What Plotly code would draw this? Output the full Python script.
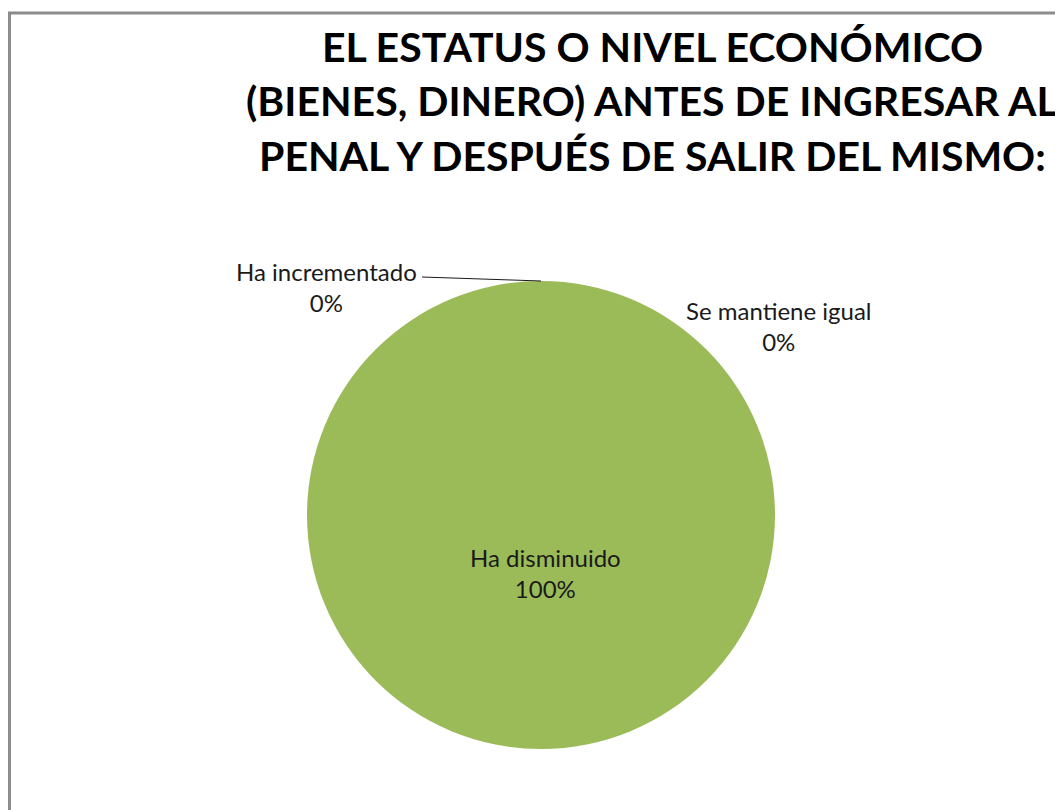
import plotly.graph_objects as go

W, H = 1063, 810

title_lines = ["EL ESTATUS O NIVEL ECONÓMICO",
               "(BIENES, DINERO) ANTES DE INGRESAR AL",
               "PENAL Y DESPUÉS DE SALIR DEL MISMO:"]
categories = ["Ha incrementado", "Se mantiene igual", "Ha disminuido"]
values = [0, 0, 100]
colors = ["#4F81BD", "#C0504D", "#9BBB59"]

total = sum(values)
pcts = [f"{round(v / total * 100)}%" for v in values]

OFF = 8  # page offset

def px(x):
    return (x - OFF) / W

def py(y):
    return 1 - (y - OFF) / H

cx, cy, r = 541, 515, 234

fig = go.Figure()
fig.add_trace(go.Pie(
    labels=categories,
    values=values,
    marker=dict(colors=colors),
    sort=False,
    direction="clockwise",
    rotation=0,
    textinfo="none",
    hoverinfo="label+percent",
    showlegend=False,
    domain=dict(x=[px(cx - r), px(cx + r)], y=[py(cy + r), py(cy - r)]),
))

label_pos = [(326, 287), (779, 326), (545, 573)]
lab_font = dict(family="Lato, Open Sans, sans-serif", size=24, color="#1a1a1a")
for (lx, ly), cat, p in zip(label_pos, categories, pcts):
    fig.add_annotation(x=px(lx), y=py(ly), xref="paper", yref="paper",
                       text=f"{cat}<br>{p}", showarrow=False, font=lab_font,
                       xanchor="center", yanchor="middle", align="center")

# leader line for "Ha incrementado"
fig.add_shape(type="line", xref="paper", yref="paper",
              x0=px(422), y0=py(277), x1=px(541), y1=py(281),
              line=dict(color="#1a1a1a", width=1))

title_y = [46, 100, 155]
for t, ty in zip(title_lines, title_y):
    fig.add_annotation(x=px(652), y=py(ty), xref="paper", yref="paper",
                       text=f"<b>{t}</b>", showarrow=False,
                       font=dict(family="Lato, Open Sans, sans-serif", size=41, color="#000000"),
                       xanchor="center", yanchor="middle")

# chart area border (left and top visible)
fig.add_shape(type="rect", xref="paper", yref="paper",
              x0=px(9.5), y0=py(840), x1=px(1100), y1=py(13),
              line=dict(color="#8C8C8C", width=3), fillcolor="rgba(0,0,0,0)")

fig.update_layout(width=W, height=H, margin=dict(l=0, r=0, t=0, b=0),
                  paper_bgcolor="white", plot_bgcolor="white")

fig.write_html("out.html")
